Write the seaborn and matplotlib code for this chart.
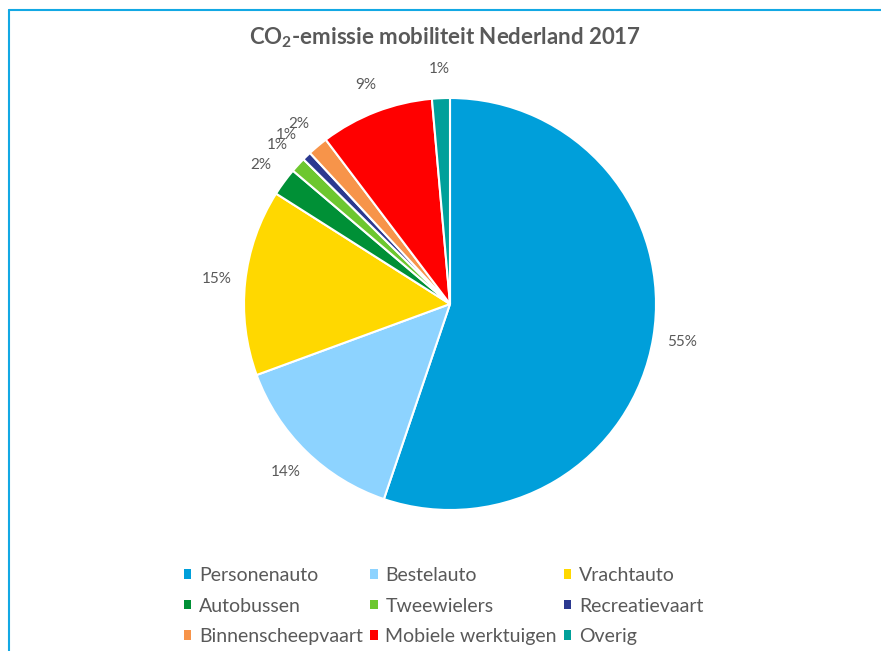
import matplotlib
matplotlib.use('Agg')
import matplotlib.pyplot as plt
import seaborn as sns
from matplotlib.lines import Line2D
from matplotlib.patches import Patch

# Data (aandeel in %)
categorieen = ['Personenauto', 'Bestelauto', 'Vrachtauto', 'Autobussen', 'Tweewielers',
               'Recreatievaart', 'Binnenscheepvaart', 'Mobiele werktuigen', 'Overig']
aandeel = [55.2, 14.2, 14.6, 2.2, 1.2, 0.7, 1.6, 8.9, 1.4]
kleuren = ['#009FDA', '#8DD3FF', '#FFD800', '#009036', '#6DC72F',
           '#2B3990', '#F7944A', '#FF0000', '#00A09A']

sns.set_style('white')
plt.rcParams['font.family'] = ['Lato', 'DejaVu Sans']
plt.rcParams['mathtext.default'] = 'regular'

tekstkleur = '#595959'

fig = plt.figure(figsize=(8.81, 6.51), dpi=100)
ax = fig.add_axes([244 / 881, 1 - 510 / 651, 412 / 881, 412 / 651])

wedges, teksten, pct = ax.pie(aandeel, colors=kleuren, startangle=90, counterclock=False,
                              autopct='%.0f%%', pctdistance=1.14, radius=1,
                              wedgeprops={'edgecolor': 'white', 'linewidth': 1.5},
                              textprops={'color': tekstkleur, 'fontsize': 11})
ax.set_xlim(-1, 1)
ax.set_ylim(-1, 1)
ax.set_aspect('equal')
ax.axis('off')

fig.text(445 / 881, 1 - 38 / 651, r'CO$_2$-emissie mobiliteit Nederland 2017',
         ha='center', va='center', fontsize=16, fontweight='bold', color=tekstkleur)

# legenda rij voor rij vullen (matplotlib vult per kolom)
ncol = 3
volgorde = [r * ncol + c for c in range(ncol) for r in range(len(categorieen) // ncol)]
handles = [Patch(facecolor=kleuren[i], edgecolor='none') for i in volgorde]
labels = [categorieen[i] for i in volgorde]
leg = fig.legend(handles, labels, ncol=ncol, loc='center left',
                 bbox_to_anchor=(166 / 881, 1 - 606 / 651), frameon=False,
                 fontsize=14, handlelength=0.4, handleheight=0.4, handletextpad=0.4,
                 columnspacing=0.35, labelspacing=0.7, labelcolor=tekstkleur)

# blauwe rand boven en links
rand = '#13A8E4'
fig.add_artist(Line2D([9 / 881, 1], [1 - 10 / 651, 1 - 10 / 651], color=rand, lw=1.5,
                      transform=fig.transFigure))
fig.add_artist(Line2D([9 / 881, 9 / 881], [0, 1 - 10 / 651], color=rand, lw=1.5,
                      transform=fig.transFigure))

fig.savefig('out.png', dpi=100)
